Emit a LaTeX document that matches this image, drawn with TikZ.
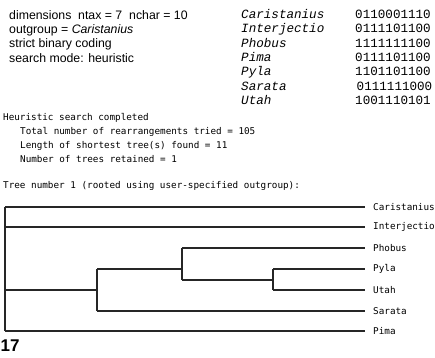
\documentclass[tikz,border=0pt]{standalone}
\usepackage{fontspec}
\setmainfont{Liberation Sans}
\newfontfamily\courierfont{Liberation Mono}
\newfontfamily\pixfont{DejaVu Sans Mono}
\begin{document}
\begin{tikzpicture}[x=1pt,y=-1pt,
  head/.style={anchor=base west,inner sep=0pt,font=\fontsize{12.3}{14}\selectfont},
  taxon/.style={anchor=base west,inner sep=0pt,font=\courierfont\itshape\fontsize{12.6}{14}\selectfont},
  code/.style={anchor=base west,inner sep=0pt,font=\courierfont\fontsize{12.6}{14}\selectfont},
  outtext/.style={anchor=base west,inner sep=0pt,font=\pixfont\fontsize{9.3}{11}\selectfont},
  leaf/.style={anchor=west,inner sep=0pt,font=\pixfont\fontsize{9.3}{11}\selectfont},
  branch/.style={line width=1.2pt,draw=black!85}]
\useasboundingbox (0,0) rectangle (435,357);
% header
\node[head] (h1) at (9,19) {dimensions\ \ ntax = 7\ \ nchar = 10};
\node[head] (h2) at (9,33.4) {outgroup = \textit{Caristanius}};
\node[head] (h3) at (9,47.8) {strict binary coding};
\node[head] (h4) at (9,62.2) {search mode: heuristic};
% data matrix
\node[taxon] (t1) at (241,18.3) {Caristanius};
\node[taxon] (t2) at (241,32.7) {Interjectio};
\node[taxon] (t3) at (241,47.1) {Phobus};
\node[taxon] (t4) at (241,61.5) {Pima};
\node[taxon] (t5) at (241,75.9) {Pyla};
\node[taxon] (t6) at (241,90.3) {Sarata};
\node[taxon] (t7) at (241,104.7) {Utah};
\node[code] (c1) at (355,18.3) {0110001110};
\node[code] (c2) at (355,32.7) {0111101100};
\node[code] (c3) at (355,47.1) {1111111100};
\node[code] (c4) at (355,61.5) {0111101100};
\node[code] (c5) at (355,75.9) {1101101100};
\node[code] (c6) at (356.5,90.3) {0111111000};
\node[code] (c7) at (355,104.7) {1001110101};
% search output
\node[outtext] (o1) at (3,120.5) {Heuristic search completed};
\node[outtext] (o2) at (20,134.5) {Total number of rearrangements tried = 105};
\node[outtext] (o3) at (20,148.5) {Length of shortest tree(s) found = 11};
\node[outtext] (o4) at (20,162.5) {Number of trees retained = 1};
\node[outtext] (o5) at (3,188.5) {Tree number 1 (rooted using user-specified outgroup):};
% leaves
\node[leaf] (lCar) at (373,207) {Caristanius};
\node[leaf] (lInt) at (373,227) {Interjectio};
\node[leaf] (lPho) at (373,248) {Phobus};
\node[leaf] (lPyl) at (373,269) {Pyla};
\node[leaf] (lUta) at (373,290) {Utah};
\node[leaf] (lSar) at (373,311) {Sarata};
\node[leaf] (lPim) at (373,331) {Pima};
% internal nodes
\coordinate (root) at (5,290);
\coordinate (nA) at (97,290);
\coordinate (nB) at (182,269);
\coordinate (nC) at (273,280);
% branches
\draw[branch] (5,207) -- (5,331);
\draw[branch] (5,207) -- ([xshift=-8pt]lCar.west);
\draw[branch] (5,227) -- ([xshift=-8pt]lInt.west);
\draw[branch] (5,331) -- ([xshift=-8pt]lPim.west);
\draw[branch] (root) -- (nA);
\draw[branch] (97,269) -- (97,311);
\draw[branch] (97,311) -- ([xshift=-8pt]lSar.west);
\draw[branch] (97,269) -- (nB);
\draw[branch] (182,248) -- (182,280);
\draw[branch] (182,248) -- ([xshift=-8pt]lPho.west);
\draw[branch] (182,280) -- (nC);
\draw[branch] (273,269) -- (273,290);
\draw[branch] (273,269) -- ([xshift=-8pt]lPyl.west);
\draw[branch] (273,290) -- ([xshift=-8pt]lUta.west);
% figure number
\node[anchor=base west,inner sep=0pt,font=\bfseries\fontsize{17}{17}\selectfont] (fig) at (0.5,351) {17};
\end{tikzpicture}
\end{document}
